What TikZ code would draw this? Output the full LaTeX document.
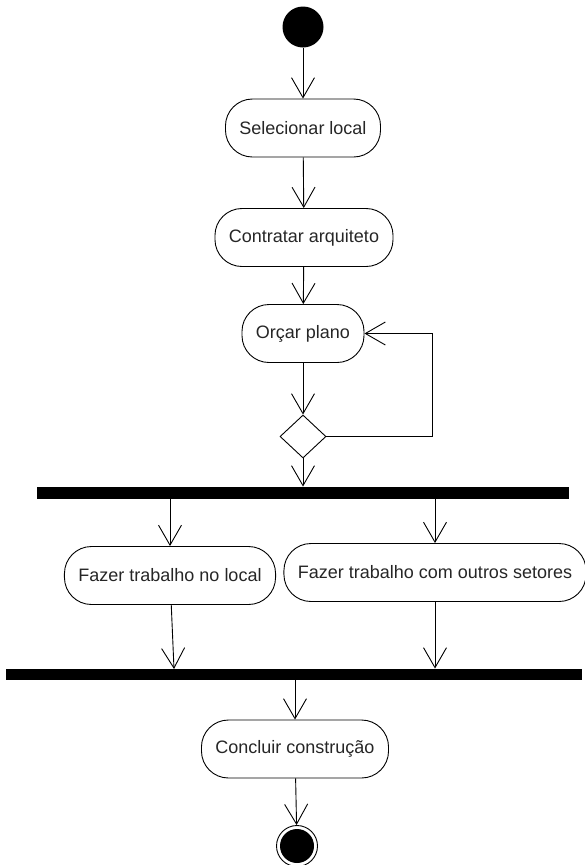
\documentclass[tikz,border=0pt]{standalone}
\usepackage{fontspec}
\setmainfont{Liberation Sans}
\usetikzlibrary{arrows.meta,shapes.geometric}
\begin{document}
\begin{tikzpicture}[x=1pt,y=-1pt,line width=0.9pt,
  acao/.style={draw,rounded corners=27pt,minimum height=58pt,inner xsep=14pt,
    text=black!85,font=\fontsize{18}{21}\selectfont},
  barra/.style={fill=black,inner sep=0pt},
  seta/.style={-{Straight Barb[length=20pt,width=23pt]}}]
\useasboundingbox (0,0) rectangle (584,865);
\node[circle,fill,minimum size=41pt,inner sep=0pt] (inicio) at (303,27) {};
\node[acao] (selecionar) at (303,128) {Selecionar local};
\node[acao] (contratar) at (304,237.5) {Contratar arquiteto};
\node[acao] (orcar) at (303,333.5) {Orçar plano};
\node[diamond,draw,minimum width=46pt,minimum height=43pt,inner sep=0pt]
  (decisao) at (303,436.5) {};
\node[barra,minimum width=532pt,minimum height=12pt] (fork) at (303,493) {};
\node[acao] (local) at (170,575.5) {Fazer trabalho no local};
\node[acao] (setores) at (435,572.5) {Fazer trabalho com outros setores};
\node[barra,minimum width=576pt,minimum height=11pt] (join) at (294,674.5) {};
\coordinate (chegada) at (174,669);
\node[acao] (concluir) at (295,749) {Concluir construção};
\node[circle,draw,minimum size=41pt,inner sep=0pt] (fim) at (297,846) {};
\node[circle,fill,minimum size=34pt,inner sep=0pt] (fimmiolo) at (fim) {};
\draw[seta] (inicio) -- (selecionar);
\draw[seta] (selecionar) -- (contratar);
\draw[seta] (contratar) -- (orcar);
\draw[seta] (orcar) -- (decisao);
\draw[seta] (decisao.east) -- ++(106,0) |- (orcar.east);
\draw[seta] (decisao) -- (fork);
\draw[seta] (fork.south -| local) -- (local);
\draw[seta] (fork.south -| setores) -- (setores);
\draw[seta] (local) -- (chegada);
\draw[seta] (setores) -- (setores |- join.north);
\draw[seta] (join.south -| concluir) -- (concluir);
\draw[seta] (concluir) -- (fim);
\end{tikzpicture}
\end{document}
